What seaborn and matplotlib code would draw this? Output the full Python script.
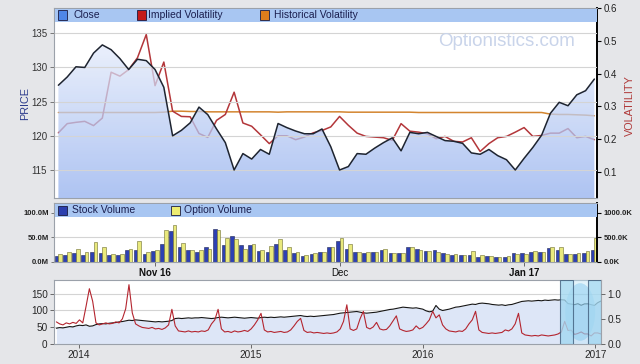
import numpy as np
import pandas as pd
import matplotlib
matplotlib.use('Agg')
import matplotlib.pyplot as plt
from matplotlib.patches import Rectangle, Ellipse
from matplotlib.colors import LinearSegmentedColormap
import seaborn as sns

sns.set_style('white')
plt.rcParams['font.family'] = ['Liberation Sans', 'DejaVu Sans']

# daily values for the zoomed window, 17 Oct 2016 - 13 Jan 2017
close = [127.4, 128.6, 130.1, 130.0, 132.1, 133.3, 132.6, 131.3, 129.7, 131.2,
         131.0, 129.7, 127.1, 120.0, 120.8, 121.9, 124.2, 123.1, 121.0, 119.0,
         115.0, 117.4, 116.6, 118.0, 117.3, 121.8, 121.2, 120.7, 120.3, 120.3,
         121.0, 118.4, 115.0, 115.5, 117.4, 117.3, 118.2, 119.0, 119.7, 117.8,
         120.5, 120.3, 120.5, 119.9, 119.3, 119.2, 118.9, 117.5, 117.3, 118.0,
         117.1, 116.5, 115.0, 116.7, 118.3, 120.1, 123.3, 124.9, 124.4, 126.0,
         126.6, 128.3]
implied_vol = [0.219, 0.247, 0.251, 0.254, 0.241, 0.264, 0.404, 0.392, 0.412, 0.448,
               0.519, 0.363, 0.435, 0.285, 0.269, 0.268, 0.217, 0.205, 0.257, 0.275,
               0.343, 0.249, 0.239, 0.213, 0.186, 0.210, 0.210, 0.198, 0.206, 0.219,
               0.226, 0.237, 0.269, 0.242, 0.218, 0.208, 0.206, 0.204, 0.196, 0.247,
               0.224, 0.221, 0.216, 0.201, 0.208, 0.193, 0.191, 0.204, 0.162, 0.186,
               0.204, 0.208, 0.221, 0.235, 0.208, 0.211, 0.218, 0.218, 0.232, 0.204,
               0.208, 0.198]
hist_vol = [0.281, 0.281, 0.281, 0.281, 0.281, 0.281, 0.281, 0.281, 0.281, 0.281,
            0.281, 0.281, 0.282, 0.285, 0.285, 0.284, 0.284, 0.283, 0.283, 0.283,
            0.283, 0.283, 0.283, 0.283, 0.283, 0.282, 0.283, 0.283, 0.283, 0.283,
            0.283, 0.283, 0.283, 0.282, 0.282, 0.282, 0.282, 0.282, 0.282, 0.282,
            0.282, 0.281, 0.281, 0.281, 0.281, 0.281, 0.281, 0.281, 0.281, 0.281,
            0.281, 0.281, 0.281, 0.281, 0.281, 0.281, 0.276, 0.275, 0.275, 0.274,
            0.273, 0.271]
stock_vol_m = [12, 15, 18, 15, 20, 18, 15, 15, 25, 24,
               17, 22, 37, 64, 31, 24, 21, 31, 67, 34,
               53, 35, 35, 23, 21, 36, 25, 18, 12, 17,
               20, 31, 43, 26, 21, 19, 21, 24, 19, 18,
               30, 27, 22, 24, 18, 15, 14, 15, 11, 13,
               11, 10, 18, 19, 20, 20, 28, 25, 16, 17,
               19, 24]
option_vol_k = [170, 210, 260, 200, 400, 300, 170, 170, 260, 430,
                200, 240, 660, 750, 380, 240, 240, 270, 650, 480,
                470, 270, 370, 250, 320, 460, 300, 210, 150, 180,
                200, 300, 490, 360, 210, 200, 210, 270, 190, 180,
                310, 250, 230, 200, 170, 160, 140, 230, 150, 130,
                110, 120, 170, 170, 220, 200, 300, 300, 160, 180,
                220, 480]
month_labels = ['Nov 16', 'Dec', 'Jan 17']
month_starts = ['2016-11-01', '2016-12-01', '2017-01-03']

# weekly history for the navigator strip, Nov 2013 - Jan 2017
nav_price = [47, 49, 48, 50, 52, 51, 54, 56, 55, 57,
             53, 54, 58, 60, 61, 60, 62, 63, 64, 66,
             67, 69, 71, 70, 72, 71, 70, 69, 68, 67,
             66, 67, 66, 67, 68, 70, 76, 77, 76, 77,
             78, 77, 78, 78, 79, 78, 77, 76, 77, 79,
             80, 79, 78, 79, 80, 79, 78, 77, 78, 79,
             78, 77, 79, 80, 79, 80, 79, 80, 81, 80,
             81, 82, 83, 84, 85, 83, 82, 83, 82, 83,
             84, 85, 86, 87, 88, 90, 92, 93, 94, 95,
             96, 97, 95, 93, 92, 93, 94, 95, 97, 99,
             101, 103, 104, 106, 108, 110, 109, 108, 107, 108,
             106, 104, 99, 96, 98, 115, 104, 100, 102, 104,
             107, 110, 111, 113, 115, 117, 119, 118, 121, 122,
             121, 120, 118, 117, 116, 117, 115, 117, 118, 121,
             124, 127, 128, 129, 128, 129, 130, 129, 131, 130,
             131, 132, 131, 132.1, 131.2, 120.6, 119.0, 117.5, 120.3, 115.5,
             119.7, 119.9, 117.3, 115.0, 123.3, 128.3]
nav_iv = [0.44, 0.40, 0.38, 0.42, 0.40, 0.43, 0.41, 0.48, 0.42, 0.75,
          1.10, 0.85, 0.42, 0.38, 0.40, 0.42, 0.40, 0.41, 0.44, 0.42,
          0.50, 0.70, 1.18, 0.62, 0.40, 0.36, 0.33, 0.32, 0.31, 0.33,
          0.30, 0.31, 0.29, 0.32, 0.38, 0.69, 0.36, 0.26, 0.25, 0.24,
          0.26, 0.24, 0.25, 0.24, 0.26, 0.25, 0.28, 0.40, 0.48, 0.69,
          0.30, 0.24, 0.25, 0.23, 0.26, 0.24, 0.25, 0.27, 0.25, 0.30,
          0.38, 0.48, 0.61, 0.28, 0.24, 0.25, 0.23, 0.24, 0.25, 0.23,
          0.24, 0.28, 0.36, 0.45, 0.51, 0.27, 0.23, 0.24, 0.22, 0.23,
          0.22, 0.21, 0.22, 0.21, 0.22, 0.24, 0.30, 0.45, 0.78, 0.30,
          0.27, 0.30, 0.50, 0.65, 0.33, 0.30, 0.34, 0.43, 0.30, 0.28,
          0.29, 0.36, 0.46, 0.56, 0.30, 0.27, 0.25, 0.26, 0.28, 0.36,
          0.30, 0.33, 0.40, 0.48, 0.65, 0.52, 0.58, 0.38, 0.30, 0.26,
          0.25, 0.24, 0.26, 0.25, 0.30, 0.40, 0.48, 0.65, 0.28, 0.23,
          0.22, 0.21, 0.22, 0.21, 0.22, 0.23, 0.28, 0.26, 0.30, 0.40,
          0.61, 0.22, 0.18, 0.17, 0.16, 0.17, 0.16, 0.18, 0.17, 0.16,
          0.17, 0.18, 0.20, 0.24, 0.45, 0.27, 0.275, 0.19, 0.21, 0.24,
          0.20, 0.20, 0.16, 0.22, 0.22, 0.20]
year_labels = ['2014', '2015', '2016', '2017']

days = pd.bdate_range('2016-10-17', '2017-01-13', freq='C',
                      holidays=['2016-11-24', '2016-12-26', '2017-01-02'])
weeks = pd.date_range('2013-11-15', '2017-01-13', freq='W-FRI')

df = pd.DataFrame({'i': np.arange(len(days)), 'close': close, 'iv': implied_vol, 'hv': hist_vol})
vol = pd.DataFrame({'i': list(df.i) * 2,
                    'kind': ['Stock'] * len(days) + ['Option'] * len(days),
                    'vol': stock_vol_m + [v / 10 for v in option_vol_k]})
nav = pd.DataFrame({'date': weeks, 'price': nav_price, 'iv': nav_iv})

W, H = 640, 364
def box(l, t, r, b):
    return [l / W, 1 - b / H, (r - l) / W, (b - t) / H]

GRAY = '#9ba1aa'
BAND = '#a8c6f2'
fig = plt.figure(figsize=(6.4, 3.64), dpi=100, facecolor='#e5e6e9')

# ---------- main price / volatility panel
ax_v = fig.add_axes(box(54, 8, 597, 198))
ax_v.set_facecolor('white')
ax_p = ax_v.twinx()
sns.lineplot(data=df, x='i', y='hv', ax=ax_v, color='#d3852f', lw=1.1)
sns.lineplot(data=df, x='i', y='iv', ax=ax_v, color='#b3363a', lw=1.1)

poly = ax_p.fill_between(df.i, df.close, 100, color='none', lw=0)
cmap = LinearSegmentedColormap.from_list('fill', ['#f7f9fe', '#93b0ee'])
img = ax_p.imshow(np.linspace(0, 1, 256).reshape(-1, 1), extent=[-0.5, 61.5, 110.9, 138.7],
                  cmap=cmap, aspect='auto', alpha=0.75, zorder=0.5)
img.set_clip_path(poly.get_paths()[0], transform=ax_p.transData)
sns.lineplot(data=df, x='i', y='close', ax=ax_p, color='#1e2430', lw=1.1, zorder=3)

ax_p.set_axisbelow('line')
ax_p.yaxis.grid(True, color='#d4d4d4', lw=0.8)
ax_p.yaxis.tick_left()
ax_v.yaxis.tick_right()
ax_p.set_ylim(110.9, 138.7)
ax_p.set_yticks([115, 120, 125, 130, 135])
ax_v.set_ylim(0.02, 0.60)
ax_v.set_yticks([0.1, 0.2, 0.3, 0.4, 0.5, 0.6])
ax_v.set_yticklabels([f'{t:.1f}' for t in [0.1, 0.2, 0.3, 0.4, 0.5, 0.6]])
ax_v.set_xlim(-0.5, 61.3)
ax_v.set_xticks([])
for a in (ax_v, ax_p):
    a.set_xlabel('')
    a.set_ylabel('')
ax_p.tick_params(axis='y', left=True, right=False, length=3, width=0.6, color='#666666',
                 labelsize=7, labelcolor='#333333', pad=2)
ax_v.tick_params(axis='y', right=True, left=False, length=3, width=0.8, color='black',
                 labelsize=7, labelcolor='#222222', pad=1.5)
for s in ax_p.spines.values():
    s.set_visible(False)
for s in ax_v.spines.values():
    s.set_color(GRAY)
    s.set_linewidth(0.8)
ax_v.spines['right'].set_color('black')
ax_v.spines['right'].set_linewidth(1.4)

# ---------- volume panel
ax_s = fig.add_axes(box(54, 203, 597, 262))
ax_s.set_facecolor('white')
sns.barplot(data=vol, x='i', y='vol', hue='kind', hue_order=['Stock', 'Option'],
            palette={'Stock': '#2d40b2', 'Option': '#e9e97c'}, width=0.84, saturation=1,
            edgecolor='#1d2353', linewidth=0.4, legend=False, ax=ax_s)
for bar in ax_s.containers[1]:
    bar.set_edgecolor('#6d6d30')
ax_s.set_xlim(-0.5, 61.3)
ax_s.set_ylim(0, 120)
ax_s.set_yticks([0, 50, 100])
ax_s.set_yticklabels(['0.0M', '50.0M', '100.0M'], fontsize=5.5, fontweight='bold', color='#222222')
ax_s.set_axisbelow(True)
ax_s.yaxis.grid(True, color='#d4d4d4', lw=0.8)
pos = [days.get_loc(pd.Timestamp(d)) for d in month_starts]
ax_s.set_xticks(pos)
ax_s.set_xticklabels(month_labels, fontsize=7, color='#111111')
for lab, w in zip(ax_s.get_xticklabels(), ['bold', 'normal', 'bold']):
    lab.set_fontweight(w)
ax_s.tick_params(axis='x', bottom=True, length=3, width=0.6, color='#555555', pad=1.5)
ax_s.tick_params(axis='y', left=True, length=2, width=0.6, color='#666666', pad=1.5)
ax_s.set_xlabel('')
ax_s.set_ylabel('')
ax_o = ax_s.twinx()
ax_o.set_ylim(0, 1200)
ax_o.set_yticks([0, 500, 1000])
ax_o.set_yticklabels(['0.0K', '500.0K', '1000.0K'], fontsize=5.5, fontweight='bold', color='#222222')
ax_o.tick_params(axis='y', right=True, length=3, width=0.8, color='black', pad=1.5)
for s in ax_o.spines.values():
    s.set_visible(False)
for s in ax_s.spines.values():
    s.set_color(GRAY)
    s.set_linewidth(0.8)
ax_s.spines['right'].set_color('black')
ax_s.spines['right'].set_linewidth(1.4)

# ---------- navigator panel
ax_n = fig.add_axes(box(54, 280, 601, 344))
ax_n.set_facecolor('white')
ax_n.fill_between(nav.date, nav.price, 0, color='#dde6f7', lw=0)
sns.lineplot(data=nav, x='date', y='price', ax=ax_n, color='#151515', lw=0.8)
ax_ni = ax_n.twinx()
sns.lineplot(data=nav, x='date', y='iv', ax=ax_ni, color='#b4252f', lw=0.8)
ax_n.set_xlim(pd.Timestamp('2013-11-10'), pd.Timestamp('2017-01-13'))
ax_n.set_ylim(0, 191)
ax_ni.set_ylim(0, 191 / 150)
ax_n.set_yticks([0, 50, 100, 150])
ax_ni.set_yticks([0.0, 0.5, 1.0])
ax_ni.set_yticklabels(['0.0', '0.5', '1.0'])
ax_n.set_axisbelow(True)
ax_n.yaxis.grid(True, color='#d4d4d4', lw=0.8)
ax_n.set_xticks([pd.Timestamp(f'{y}-01-01') for y in year_labels])
ax_n.set_xticklabels(year_labels)
ax_n.tick_params(axis='x', bottom=True, length=3, width=0.6, color='#555555', labelsize=7.2, pad=1)
ax_n.tick_params(axis='y', left=True, length=3, width=0.6, color='#555555', labelsize=7.2, pad=1.5)
ax_ni.tick_params(axis='y', right=True, length=3, width=0.6, color='#555555', labelsize=7.2, pad=1.5)
for a in (ax_n, ax_ni):
    a.set_xlabel('')
    a.set_ylabel('')
for s in ax_ni.spines.values():
    s.set_visible(False)
for s in ax_n.spines.values():
    s.set_color(GRAY)
    s.set_linewidth(0.8)

# navigator window over the zoomed range
ax_ni.axvspan(pd.Timestamp('2016-11-14'), pd.Timestamp('2016-12-16'), color='#bfe5f7', alpha=0.45, lw=0, zorder=4)
ax_ni.add_patch(Ellipse((0.962, 0.5), 0.055, 0.9, transform=ax_ni.transAxes,
                        color='#7cc6ee', alpha=0.45, lw=0, zorder=4))
for a, b in [('2016-10-17', '2016-11-14'), ('2016-12-16', '2017-01-13')]:
    ax_ni.axvspan(pd.Timestamp(a), pd.Timestamp(b), facecolor='#a3d8f1', alpha=0.8,
                  edgecolor='#3f5d7c', lw=0.8, zorder=5)

# ---------- legend bands and labels
def fig_rect(l, t, r, b, **kw):
    fig.patches.append(Rectangle((l / W, 1 - b / H), (r - l) / W, (b - t) / H,
                                 transform=fig.transFigure, **kw))

def legend_item(sx, tx, cy, color, label):
    fig_rect(sx, cy - 4.5, sx + 9, cy + 4.5, facecolor=color, edgecolor='#1a1a40', lw=0.6, zorder=11)
    fig.text(tx / W, 1 - cy / H, label, fontsize=7.5, color='#1b1f4f', ha='left', va='center', zorder=12)

fig_rect(54.5, 8.5, 596.5, 22, facecolor=BAND, lw=0, zorder=10)
fig_rect(54.5, 203.5, 596.5, 217, facecolor=BAND, lw=0, zorder=10)
legend_item(58, 73, 15, '#4f86e8', 'Close')
legend_item(137, 148, 15, '#c41a1a', 'Implied Volatility')
legend_item(260, 274, 15, '#e07d1c', 'Historical Volatility')
legend_item(58, 72, 210, '#2c3fae', 'Stock Volume')
legend_item(171, 184, 210, '#ecec72', 'Option Volume')

fig.text(507 / W, 1 - 41 / H, 'Optionistics.com', fontsize=13.5, color='#c9d4ea', ha='center', va='center')
fig.text(25 / W, 1 - 104 / H, 'PRICE', rotation=90, fontsize=7.8, color='#2b3a8c', ha='center', va='center')
fig.text(630 / W, 1 - 106 / H, 'VOLATILITY', rotation=90, fontsize=7.8, color='#b03a3a', ha='center', va='center')

fig.savefig('out.png', dpi=100, facecolor=fig.get_facecolor())
